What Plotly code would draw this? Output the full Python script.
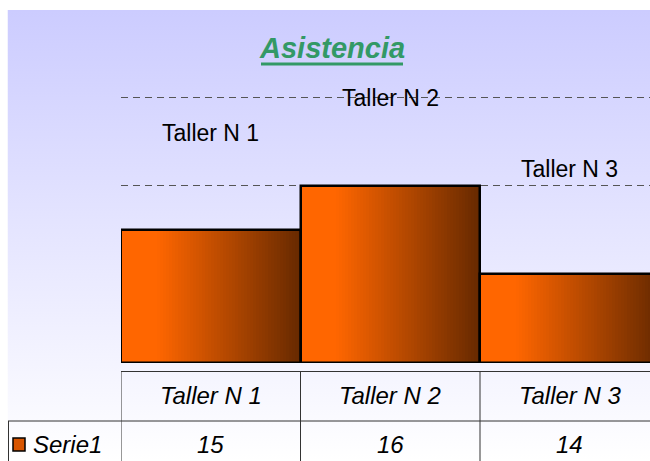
import base64
import plotly.graph_objects as go

# ---- data ----
categories = ["Taller N 1", "Taller N 2", "Taller N 3"]
values = [15, 16, 14]
series_name = "Serie1"
title_text = "Asistencia"

# ---- styles ----
Y_MIN = 12
Y_MAX = 18.39
X_RANGE = [-0.5, 2.447]
label_shift = [97, 88, 105]          # px offset of the data labels above the bars
N_SLICES = 60
C_LEFT = (255, 102, 0)
C_RIGHT = (102, 41, 0)
FONT = "Liberation Sans, Arial, sans-serif"

W, H = 650, 461
ML, MR, MT, MB = 121, 0, 80, 98
PW, PH = W - ML - MR, H - MT - MB


def px_x(p):
    return (p - ML) / PW


def px_y(p):
    return (H - MB - p) / PH


def slice_color(t):
    if t < 0.2:
        c = C_LEFT
    else:
        u = (t - 0.2) / 0.8
        c = tuple(round(C_LEFT[i] + (C_RIGHT[i] - C_LEFT[i]) * u) for i in range(3))
    return "rgb(%d,%d,%d)" % c


fig = go.Figure()
heights = [v - Y_MIN for v in values]
for k in range(N_SLICES):
    t = (k + 0.5) / N_SLICES
    fig.add_trace(go.Bar(
        x=categories, y=heights, base=[Y_MIN] * len(values),
        offset=-0.5 + k / N_SLICES, width=1.0 / N_SLICES * 1.15,
        marker=dict(color=slice_color(t), line=dict(width=0)),
        showlegend=False, hoverinfo="skip",
    ))
# outline
fig.add_trace(go.Bar(
    x=categories, y=heights, base=[Y_MIN] * len(values),
    offset=-0.5, width=1.0, name=series_name,
    marker=dict(color="rgba(0,0,0,0)", line=dict(color="black", width=2.5)),
    customdata=values, hovertemplate="%{x}: %{customdata}<extra></extra>",
    showlegend=False,
))

# background gradient as svg image
svg = ('<svg xmlns="http://www.w3.org/2000/svg" width="100" height="100" preserveAspectRatio="none">'
       '<defs><linearGradient id="g" x1="0" y1="0" x2="0" y2="1">'
       '<stop offset="0" stop-color="#CCCCFF"/><stop offset="1" stop-color="#FFFFFF"/>'
       '</linearGradient></defs><rect width="100" height="100" fill="url(#g)"/></svg>')
src = "data:image/svg+xml;base64," + base64.b64encode(svg.encode()).decode()

annotations = []
# title
annotations.append(dict(
    text="<b><i>%s</i></b>" % title_text, xref="paper", yref="paper",
    x=px_x(332), y=px_y(48), xanchor="center", yanchor="middle", showarrow=False,
    font=dict(family=FONT, size=29, color="#339966"),
))
# data labels (category names above bars)
for c, v, s in zip(categories, values, label_shift):
    annotations.append(dict(
        text=c, x=c, y=v, xref="x", yref="y", yshift=s, showarrow=False,
        xanchor="center", yanchor="middle",
        font=dict(family=FONT, size=23, color="black"),
    ))
# data table
for c, v in zip(categories, values):
    annotations.append(dict(
        text="<i>%s</i>" % c, x=c, y=px_y(395), xref="x", yref="paper", showarrow=False,
        xanchor="center", yanchor="middle", font=dict(family=FONT, size=24, color="black"),
    ))
    annotations.append(dict(
        text="<i>%s</i>" % v, x=c, y=px_y(444), xref="x", yref="paper", showarrow=False,
        xanchor="center", yanchor="middle", font=dict(family=FONT, size=24, color="black"),
    ))
annotations.append(dict(
    text="<i>%s</i>" % series_name, x=px_x(31), y=px_y(444), xref="paper", yref="paper",
    showarrow=False, xanchor="left", yanchor="middle",
    font=dict(family=FONT, size=24, color="black"),
))

LC = "#333333"
shapes = [
    # title underline
    dict(type="line", xref="paper", yref="paper", x0=px_x(261), x1=px_x(403),
         y0=px_y(64), y1=px_y(64), line=dict(color="#339966", width=3)),
    dict(type="line", xref="paper", yref="paper", x0=0, x1=1, y0=px_y(371.5), y1=px_y(371.5),
         line=dict(color=LC, width=1)),
    dict(type="line", xref="paper", yref="paper", x0=px_x(8), x1=1, y0=px_y(421), y1=px_y(421),
         line=dict(color=LC, width=1)),
    dict(type="line", xref="paper", yref="paper", x0=px_x(8.5), x1=px_x(8.5), y0=px_y(421), y1=px_y(470),
         line=dict(color=LC, width=1)),
    # legend key
    dict(type="rect", xref="paper", yref="paper", x0=px_x(13), x1=px_x(25), y0=px_y(438), y1=px_y(451),
         fillcolor="#D85500", line=dict(color="black", width=1.5)),
]
for i in range(len(categories)):
    shapes.append(dict(type="line", xref="x", yref="paper", x0=i - 0.5, x1=i - 0.5,
                       y0=px_y(371.5), y1=px_y(470), line=dict(color=LC, width=1)))

fig.update_layout(
    width=W, height=H, margin=dict(l=ML, r=MR, t=MT, b=MB),
    paper_bgcolor="white", plot_bgcolor="rgba(0,0,0,0)",
    barmode="overlay", bargap=0, showlegend=False,
    xaxis=dict(range=X_RANGE, showticklabels=False, showgrid=False, zeroline=False,
               showline=False, ticks=""),
    yaxis=dict(range=[Y_MIN, Y_MAX], tick0=Y_MIN, dtick=2, showticklabels=False,
               showgrid=True, gridcolor="#555555", gridwidth=1, griddash="7px,5px",
               zeroline=False, showline=False, ticks=""),
    images=[dict(source=src, xref="paper", yref="paper", x=px_x(7.5), y=px_y(10),
                 sizex=(650 - 7.5) / PW, sizey=(461 - 10) / PH, xanchor="left", yanchor="top",
                 sizing="stretch", layer="below")],
    annotations=annotations, shapes=shapes,
)

fig.write_html("out.html", config={"displayModeBar": False},
               post_script="document.body.style.margin='0';document.body.style.overflow='hidden';")
